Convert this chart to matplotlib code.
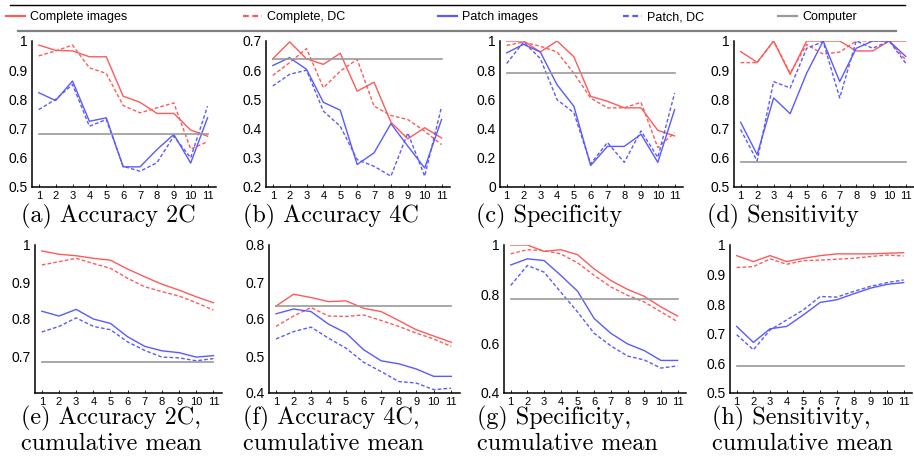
import matplotlib
matplotlib.use("Agg")
import matplotlib.pyplot as plt
from matplotlib.lines import Line2D

# ---------------- data ----------------
steps = list(range(1, 12))

acc2c_complete    = [0.986, 0.968, 0.966, 0.946, 0.946, 0.811, 0.790, 0.752, 0.752, 0.695, 0.674]
acc2c_complete_dc = [0.949, 0.966, 0.986, 0.908, 0.889, 0.779, 0.754, 0.771, 0.788, 0.630, 0.655]
acc2c_patch       = [0.823, 0.796, 0.863, 0.725, 0.737, 0.569, 0.569, 0.628, 0.680, 0.582, 0.737]
acc2c_patch_dc    = [0.765, 0.800, 0.851, 0.708, 0.731, 0.571, 0.554, 0.583, 0.674, 0.600, 0.777]
acc2c_computer    = 0.683

acc4c_complete    = [0.639, 0.697, 0.639, 0.620, 0.658, 0.528, 0.559, 0.422, 0.365, 0.403, 0.368]
acc4c_complete_dc = [0.582, 0.626, 0.674, 0.540, 0.597, 0.637, 0.477, 0.445, 0.431, 0.391, 0.345]
acc4c_patch       = [0.616, 0.643, 0.603, 0.490, 0.463, 0.277, 0.317, 0.417, 0.340, 0.265, 0.431]
acc4c_patch_dc    = [0.546, 0.586, 0.600, 0.460, 0.408, 0.294, 0.271, 0.237, 0.385, 0.237, 0.475]
acc4c_computer    = 0.637

spec_complete     = [1.000, 1.000, 0.925, 1.000, 0.892, 0.621, 0.587, 0.542, 0.542, 0.388, 0.350]
spec_complete_dc  = [0.970, 0.993, 0.964, 0.925, 0.779, 0.609, 0.542, 0.542, 0.580, 0.270, 0.372]
spec_patch        = [0.919, 0.977, 0.925, 0.700, 0.553, 0.147, 0.278, 0.278, 0.361, 0.169, 0.530]
spec_patch_dc     = [0.846, 0.993, 0.880, 0.598, 0.508, 0.158, 0.305, 0.169, 0.384, 0.203, 0.643]
spec_computer     = 0.783

sens_complete     = [0.964, 0.927, 1.000, 0.886, 1.000, 1.000, 1.000, 0.966, 0.966, 1.000, 1.000]
sens_complete_dc  = [0.926, 0.926, 1.000, 0.890, 0.988, 0.955, 0.962, 1.000, 1.000, 1.000, 0.935]
sens_patch        = [0.722, 0.611, 0.805, 0.751, 0.890, 1.000, 0.861, 0.975, 1.000, 1.000, 0.947]
sens_patch_dc     = [0.697, 0.589, 0.861, 0.839, 0.975, 0.998, 0.805, 1.000, 0.975, 1.000, 0.924]
sens_computer     = 0.585

cacc2c_complete    = [0.984, 0.975, 0.971, 0.964, 0.959, 0.935, 0.914, 0.894, 0.878, 0.860, 0.844]
cacc2c_complete_dc = [0.946, 0.955, 0.964, 0.950, 0.937, 0.910, 0.887, 0.874, 0.862, 0.844, 0.824]
cacc2c_patch       = [0.821, 0.808, 0.826, 0.800, 0.788, 0.752, 0.726, 0.714, 0.709, 0.697, 0.701]
cacc2c_patch_dc    = [0.765, 0.780, 0.803, 0.780, 0.771, 0.738, 0.715, 0.697, 0.695, 0.687, 0.693]
cacc2c_computer    = 0.683

cacc4c_complete    = [0.635, 0.667, 0.658, 0.647, 0.649, 0.629, 0.620, 0.596, 0.571, 0.554, 0.537]
cacc4c_complete_dc = [0.580, 0.608, 0.631, 0.608, 0.607, 0.611, 0.596, 0.580, 0.562, 0.546, 0.526]
cacc4c_patch       = [0.614, 0.627, 0.620, 0.586, 0.562, 0.517, 0.487, 0.479, 0.465, 0.445, 0.445]
cacc4c_patch_dc    = [0.546, 0.566, 0.578, 0.548, 0.521, 0.483, 0.458, 0.431, 0.427, 0.409, 0.413]
cacc4c_computer    = 0.634

cspec_complete     = [1.000, 1.000, 0.974, 0.981, 0.961, 0.903, 0.856, 0.820, 0.792, 0.749, 0.712]
cspec_complete_dc  = [0.964, 0.981, 0.977, 0.964, 0.928, 0.877, 0.830, 0.796, 0.769, 0.729, 0.689]
cspec_patch        = [0.919, 0.944, 0.937, 0.877, 0.813, 0.702, 0.642, 0.599, 0.572, 0.532, 0.532]
cspec_patch_dc     = [0.836, 0.917, 0.890, 0.809, 0.729, 0.642, 0.591, 0.550, 0.534, 0.501, 0.510]
cspec_computer     = 0.783

csens_complete     = [0.964, 0.944, 0.964, 0.944, 0.955, 0.964, 0.970, 0.970, 0.970, 0.972, 0.974]
csens_complete_dc  = [0.924, 0.927, 0.953, 0.935, 0.947, 0.949, 0.952, 0.955, 0.961, 0.966, 0.963]
csens_patch        = [0.725, 0.671, 0.717, 0.725, 0.764, 0.806, 0.815, 0.835, 0.854, 0.867, 0.873]
csens_patch_dc     = [0.697, 0.646, 0.713, 0.747, 0.781, 0.826, 0.824, 0.843, 0.860, 0.873, 0.882]
csens_computer     = 0.590

series_labels = ["Complete images", "Complete, DC", "Patch images", "Patch, DC", "Computer"]

captions = ["(a) Accuracy 2C", "(b) Accuracy 4C", "(c) Specificity", "(d) Sensitivity",
            "(e) Accuracy 2C,\ncumulative mean", "(f) Accuracy 4C,\ncumulative mean",
            "(g) Specificity,\ncumulative mean", "(h) Sensitivity,\ncumulative mean"]

panels = [
    (acc2c_complete, acc2c_complete_dc, acc2c_patch, acc2c_patch_dc, acc2c_computer),
    (acc4c_complete, acc4c_complete_dc, acc4c_patch, acc4c_patch_dc, acc4c_computer),
    (spec_complete, spec_complete_dc, spec_patch, spec_patch_dc, spec_computer),
    (sens_complete, sens_complete_dc, sens_patch, sens_patch_dc, sens_computer),
    (cacc2c_complete, cacc2c_complete_dc, cacc2c_patch, cacc2c_patch_dc, cacc2c_computer),
    (cacc4c_complete, cacc4c_complete_dc, cacc4c_patch, cacc4c_patch_dc, cacc4c_computer),
    (cspec_complete, cspec_complete_dc, cspec_patch, cspec_patch_dc, cspec_computer),
    (csens_complete, csens_complete_dc, csens_patch, csens_patch_dc, csens_computer),
]

ylims = [(0.5, 1.0), (0.2, 0.7), (0.0, 1.0), (0.5, 1.0),
         (0.6, 1.0), (0.4, 0.8), (0.4, 1.0), (0.5, 1.0)]
yticks = [[0.5, 0.6, 0.7, 0.8, 0.9, 1.0],
          [0.2, 0.3, 0.4, 0.5, 0.6, 0.7],
          [0.0, 0.2, 0.4, 0.6, 0.8, 1.0],
          [0.5, 0.6, 0.7, 0.8, 0.9, 1.0],
          [0.7, 0.8, 0.9, 1.0],
          [0.4, 0.5, 0.6, 0.7, 0.8],
          [0.4, 0.6, 0.8, 1.0],
          [0.5, 0.6, 0.7, 0.8, 0.9, 1.0]]

# ---------------- style / layout ----------------
W, H = 914, 468
RED = "#ff5a5a"
BLUE = "#5a5aff"
GRAY = "#9a9a9a"
DASH = (0, (2.6, 1.6))
styles = [dict(color=RED, ls="-"), dict(color=RED, ls=DASH),
          dict(color=BLUE, ls="-"), dict(color=BLUE, ls=DASH),
          dict(color=GRAY, ls="-")]
LW = 1.0

# axes boxes in pixels: left, right, top, bottom
boxes = [(32, 216, 41, 187), (266, 450, 41, 187), (500, 683, 41, 187), (734, 914, 41, 187),
         (35, 222, 245, 393), (269, 460, 245, 393), (504, 686, 245, 393), (730, 912, 245, 393)]
cap_x = [21, 243, 476, 707, 21, 243, 477, 712]
CAP_FS = 17.4

plt.rcParams["font.family"] = ["Liberation Sans", "DejaVu Sans"]

fig = plt.figure(figsize=(W / 100, H / 100), dpi=100)

def fx(px):
    return px / W

def fy(py):
    return 1 - py / H

for i, (data, ylim, yt, box) in enumerate(zip(panels, ylims, yticks, boxes)):
    l, r, t, b = box
    ax = fig.add_axes([fx(l), fy(b), fx(r) - fx(l), fy(t) - fy(b)])
    for j in range(4):
        ax.plot(steps, data[j], lw=LW, **styles[j])
    ax.plot([steps[0], steps[-1]], [data[4], data[4]], lw=1.2, **styles[4])
    ax.set_xlim(0.6, 11.5)
    ax.set_ylim(*ylim)
    ax.set_xticks(steps)
    ax.set_xticklabels([str(s) for s in steps])
    ax.set_yticks(yt)
    ax.set_yticklabels(["%g" % v for v in yt])
    ax.tick_params(axis="x", direction="in", length=2.5, width=0.6, labelsize=8, pad=3)
    ax.tick_params(axis="y", direction="in", length=0, labelsize=10, pad=3)
    for s in ("top", "right"):
        ax.spines[s].set_visible(False)
    for s in ("left", "bottom"):
        ax.spines[s].set_linewidth(1.1)
        ax.spines[s].set_color("black")
    ax.patch.set_alpha(0)

    if i < 4:
        fig.text(fx(cap_x[i]), fy(222), captions[i], family="cmr10", fontsize=CAP_FS,
                 ha="left", va="baseline")
    else:
        line1, line2 = captions[i].split("\n")
        fig.text(fx(cap_x[i]), fy(424), line1, family="cmr10", fontsize=CAP_FS,
                 ha="left", va="baseline")
        fig.text(fx(cap_x[i]), fy(450), line2, family="cmr10", fontsize=CAP_FS,
                 ha="left", va="baseline")

# legend strip
fig.add_artist(Line2D([fx(10), fx(905)], [fy(5), fy(5)], color="black", lw=1.0))
fig.add_artist(Line2D([fx(18), fx(896)], [fy(31), fy(31)], color="#808080", lw=1.6))

leg_x = [6, 243, 438, 623, 778]
for k, lab in enumerate(series_labels):
    h = Line2D([], [], lw=1.6, **styles[k])
    fig.legend(handles=[h], labels=[lab], loc="center left",
               bbox_to_anchor=(fx(leg_x[k]), fy(17)), frameon=False,
               fontsize=9, handlelength=1.5, handletextpad=0.45,
               borderaxespad=0, borderpad=0)

fig.savefig("out.png", dpi=100)
